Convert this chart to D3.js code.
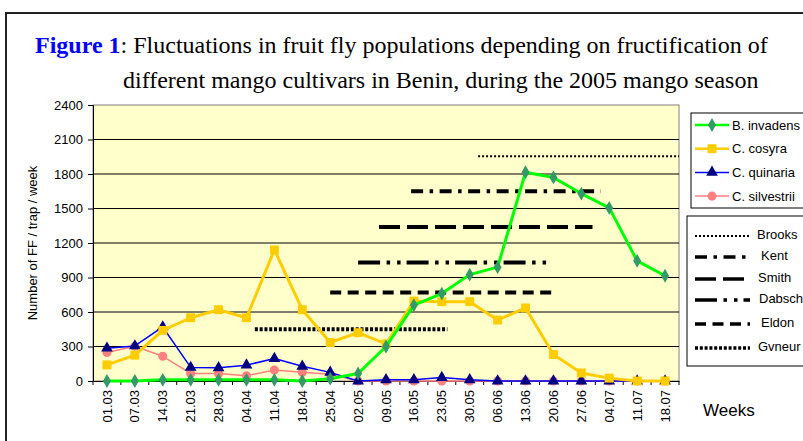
<!DOCTYPE html>
<html>
<head>
<meta charset="utf-8">
<script src="https://cdn.jsdelivr.net/npm/d3@7"></script>
<style>
  body { margin: 0; background: #fff; }
  svg { display: block; }
</style>
</head>
<body>
<div id="chart"></div>
<script>
// week labels (x categories)
const weeks = ["01.03", "07.03", "14.03", "21.03", "28.03", "04.04", "11.04", "18.04", "25.04", "02.05",
  "09.05", "16.05", "23.05", "30.05", "06.06", "13.06", "20.06", "27.06", "04.07", "11.07", "18.07"];

// fruit fly counts per trap per week
const invadens   = [0, 0, 10, 10, 10, 10, 10, 0, 20, 65, 300, 660, 760, 925, 990, 1815, 1770, 1630, 1505, 1045, 915];
const cosyra     = [140, 225, 440, 550, 620, 550, 1140, 620, 335, 420, 322, 695, 690, 690, 530, 635, 230, 70, 25, 0, 0];
const quinaria   = [285, 305, 470, 118, 115, 138, 195, 128, 75, 0, 10, 10, 30, 10, 0, 0, 0, 0, 0, 0, 0];
const silvestrii = [248, 302, 215, 66, 66, 45, 96, 76, 58, 0, 0, 0, 0, 0, 0, 0, 0, 0, 0, 0, 0];

const yTicks = [0, 300, 600, 900, 1200, 1500, 1800, 2100, 2400];

// cultivar fructification periods: start/end as week index, level on y axis
const cultivars = ["Brooks", "Kent", "Smith", "Dabsch", "Eldon", "Gvneur"];
const cultStart = [13.3, 10.9, 9.75, 9.0, 8.0, 5.3];
const cultEnd   = [20.5, 17.7, 17.4, 15.8, 16.0, 12.2];
const cultLevel = [1955, 1650, 1340, 1030, 770, 450];

const W = 803, H = 441;
const margin = { left: 93, right: 124, top: 105, bottom: 60 };
const sans = "'Liberation Sans', Arial, sans-serif";

const svg = d3.select("#chart").append("svg")
  .attr("width", W).attr("height", H);

// outer frame
svg.append("rect")
  .attr("x", 6).attr("y", 13)
  .attr("width", 900).attr("height", 500)
  .attr("fill", "none").attr("stroke", "#222").attr("stroke-width", 2);

// title
const title = svg.append("text")
  .attr("font-family", "'Liberation Serif', 'Times New Roman', serif")
  .attr("font-size", 24)
  .attr("fill", "#000");
const t1 = title.append("tspan").attr("x", 35).attr("y", 53);
t1.append("tspan").attr("fill", "#0000ff").attr("font-weight", "bold").text("Figure 1");
t1.append("tspan").text(": Fluctuations in fruit fly populations depending on fructification of");
title.append("tspan").attr("x", 123).attr("y", 88)
  .text("different mango cultivars in Benin, during the 2005 mango season");

const x = d3.scaleBand()
  .domain(weeks)
  .range([margin.left, W - margin.right]);
const y = d3.scaleLinear()
  .domain([0, 2400])
  .range([H - margin.bottom, margin.top]);
// fractional week index -> pixel
const xi = i => x(weeks[0]) + x.bandwidth() / 2 + i * x.step();

// plot area
svg.append("rect")
  .attr("x", margin.left).attr("y", margin.top)
  .attr("width", W - margin.right - margin.left)
  .attr("height", y(0) - margin.top)
  .attr("fill", "#ffffcc").attr("stroke", "#808080");

// gridlines
svg.append("g").selectAll("line")
  .data(yTicks.filter(d => d > 0 && d < 2400))
  .enter().append("line")
  .attr("x1", margin.left).attr("x2", W - margin.right)
  .attr("y1", d => y(d)).attr("y2", d => y(d))
  .attr("stroke", "#000").attr("stroke-width", 1);

// y axis
const yAxis = svg.append("g")
  .attr("transform", `translate(${margin.left},0)`)
  .call(d3.axisLeft(y).tickValues(yTicks).tickFormat(d3.format("d"))
    .tickSizeOuter(0).tickSize(5).tickPadding(5));
yAxis.select(".domain").attr("stroke", "#000");
yAxis.selectAll("text")
  .attr("font-family", sans)
  .attr("font-size", 13).attr("fill", "#000");

// x axis
const xAxis = svg.append("g")
  .attr("transform", `translate(0,${y(0)})`)
  .call(d3.axisBottom(x).tickSize(0).tickSizeOuter(0).tickPadding(8));
xAxis.select(".domain").attr("stroke", "#000");
xAxis.selectAll("text")
  .attr("font-family", sans)
  .attr("font-size", 13).attr("fill", "#000")
  .attr("transform", "rotate(-90)")
  .attr("text-anchor", "end")
  .attr("x", -9).attr("y", 0).attr("dy", "0.35em");
// ticks between categories
svg.append("g").selectAll("line")
  .data(d3.range(weeks.length + 1))
  .enter().append("line")
  .attr("x1", d => margin.left + d * x.step())
  .attr("x2", d => margin.left + d * x.step())
  .attr("y1", y(0)).attr("y2", y(0) + 4)
  .attr("stroke", "#000");

// axis titles
svg.append("text")
  .attr("transform", `translate(37,${(margin.top + y(0)) / 2}) rotate(-90)`)
  .attr("text-anchor", "middle")
  .attr("font-family", sans)
  .attr("font-size", 13)
  .text("Number of FF / trap / week");
svg.append("text")
  .attr("x", 703).attr("y", 416)
  .attr("font-family", sans)
  .attr("font-size", 17)
  .text("Weeks");

// cultivar line styles
const cultDash = ["2,2", "12,6.5,3.5,6.5", "21,7", "22,6.5,3.5,7,3.5,6", "11,6.5", "3,1.8"];
const cultWidth = [2, 4, 4, 4, 4, 4];

const cg = svg.append("g");
cultivars.forEach((c, k) => {
  cg.append("line")
    .attr("x1", xi(cultStart[k])).attr("x2", Math.min(xi(cultEnd[k]), W - margin.right))
    .attr("y1", y(cultLevel[k])).attr("y2", y(cultLevel[k]))
    .attr("stroke", "#000")
    .attr("stroke-width", cultWidth[k])
    .attr("stroke-dasharray", cultDash[k]);
});

// species series
const series = [
  { name: "B. invadens", values: invadens, line: "#00ff00", fill: "#339966", width: 3, shape: d3.symbolDiamond, size: 55 },
  { name: "C. cosyra", values: cosyra, line: "#ffcc00", fill: "#ffcc00", width: 3, shape: d3.symbolSquare, size: 80 },
  { name: "C. quinaria", values: quinaria, line: "#0000ff", fill: "#000080", width: 1.5, shape: d3.symbolTriangle, size: 60 },
  { name: "C. silvestrii", values: silvestrii, line: "#ff8080", fill: "#ff8080", width: 1.5, shape: d3.symbolCircle, size: 65 }
];

const line = d3.line()
  .x((d, i) => x(weeks[i]) + x.bandwidth() / 2)
  .y(d => y(d));

// draw in reverse so B. invadens sits on top
series.slice().reverse().forEach(s => {
  const g = svg.append("g");
  g.append("path")
    .datum(s.values)
    .attr("fill", "none")
    .attr("stroke", s.line)
    .attr("stroke-width", s.width)
    .attr("stroke-linejoin", "round")
    .attr("d", line);
  g.selectAll("path.m")
    .data(s.values)
    .enter().append("path")
    .attr("class", "m")
    .attr("d", d3.symbol().type(s.shape).size(s.size))
    .attr("transform", (d, i) => `translate(${x(weeks[i]) + x.bandwidth() / 2},${y(d)})`)
    .attr("fill", s.fill);
});

// legend 1: species
const lg1 = svg.append("g");
lg1.append("rect")
  .attr("x", 691).attr("y", 113).attr("width", 140).attr("height", 95)
  .attr("fill", "#fff").attr("stroke", "#000");
series.forEach((s, k) => {
  const ly = 125 + k * 23.7;
  lg1.append("line")
    .attr("x1", 695).attr("x2", 729).attr("y1", ly).attr("y2", ly)
    .attr("stroke", s.line).attr("stroke-width", s.width === 3 ? 2.5 : 1.5);
  lg1.append("path")
    .attr("d", d3.symbol().type(s.shape).size(s.size))
    .attr("transform", `translate(712,${ly})`)
    .attr("fill", s.fill);
  lg1.append("text")
    .attr("x", 732).attr("y", ly).attr("dy", "0.35em")
    .attr("font-family", sans)
    .attr("font-size", 13)
    .text(s.name);
});

// legend 2: cultivars
const lg2 = svg.append("g");
lg2.append("rect")
  .attr("x", 687).attr("y", 216).attr("width", 140).attr("height", 150)
  .attr("fill", "#fff").attr("stroke", "#000");
const legY = [234, 255, 277, 298, 322, 346];
const legX = [757, 761, 758, 759, 761, 758];
cultivars.forEach((c, k) => {
  lg2.append("line")
    .attr("x1", 695).attr("x2", 750)
    .attr("y1", legY[k] + 2).attr("y2", legY[k] + 2)
    .attr("stroke", "#000")
    .attr("stroke-width", cultWidth[k] === 2 ? 2 : 3.5)
    .attr("stroke-dasharray", cultDash[k]);
  lg2.append("text")
    .attr("x", legX[k]).attr("y", legY[k]).attr("dy", "0.35em")
    .attr("font-family", sans)
    .attr("font-size", 13)
    .text(c);
});
</script>
</body>
</html>
